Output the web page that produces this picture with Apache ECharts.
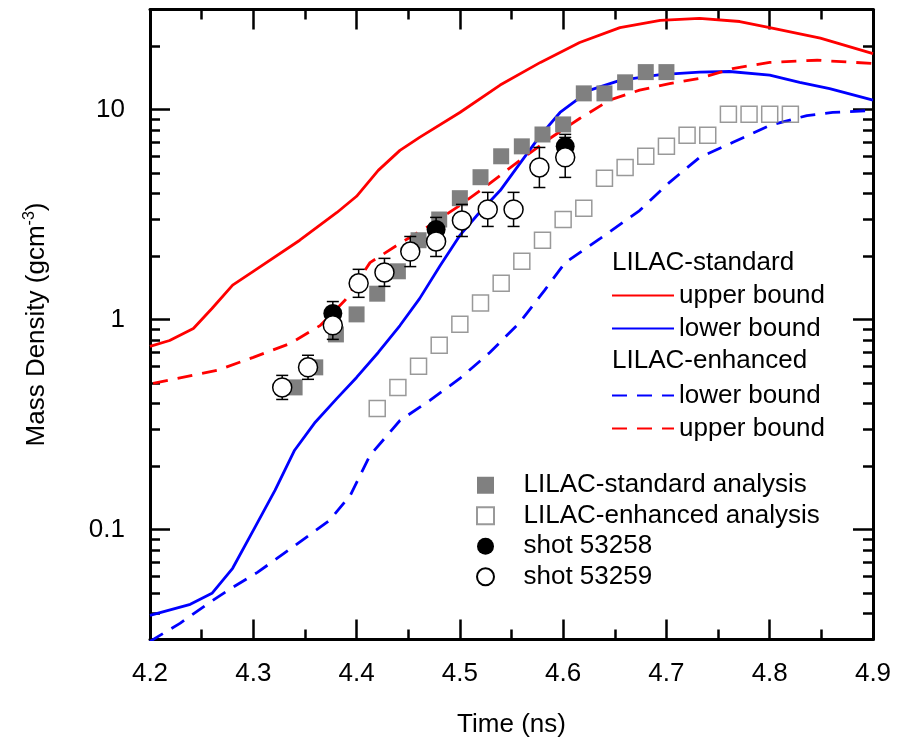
<!DOCTYPE html>
<html>
<head>
<meta charset="utf-8">
<script src="https://cdn.jsdelivr.net/npm/echarts@6/dist/echarts.min.js"></script>
<style>
  html, body { margin: 0; padding: 0; background: #fff; }
  #chart { width: 904px; height: 738px; }
</style>
</head>
<body>
<div id="chart"></div>
<script>
// Simulated bounds: [time (ns), mass density (g/cm^3)]
const stdUpper = [
  [4.200, 0.746], [4.219, 0.796], [4.242, 0.908], [4.260, 1.13], [4.280, 1.46],
  [4.300, 1.70], [4.345, 2.39], [4.381, 3.24], [4.400, 3.87], [4.421, 5.14],
  [4.442, 6.40], [4.461, 7.38], [4.500, 9.70], [4.539, 13.1], [4.578, 16.8],
  [4.616, 20.9], [4.655, 24.6], [4.694, 26.6], [4.732, 27.2], [4.771, 26.3],
  [4.800, 24.6], [4.849, 21.9], [4.900, 18.5]
];
const stdLower = [
  [4.200, 0.0391], [4.239, 0.0441], [4.260, 0.0498], [4.280, 0.0655], [4.300, 0.0993],
  [4.321, 0.154], [4.340, 0.239], [4.360, 0.325], [4.381, 0.422], [4.400, 0.531],
  [4.421, 0.698], [4.442, 0.938], [4.461, 1.26], [4.481, 1.81], [4.500, 2.52],
  [4.519, 3.24], [4.539, 4.12], [4.558, 5.54], [4.578, 7.54], [4.597, 9.70],
  [4.626, 12.4], [4.655, 13.8], [4.694, 14.7], [4.732, 15.1], [4.761, 15.2],
  [4.800, 14.6], [4.829, 13.5], [4.858, 12.6], [4.900, 11.1]
];
const enhLower = [
  [4.200, 0.0294], [4.229, 0.0358], [4.258, 0.0451], [4.280, 0.0531], [4.304, 0.0626],
  [4.334, 0.0798], [4.374, 0.111], [4.394, 0.146], [4.413, 0.226], [4.442, 0.331],
  [4.471, 0.413], [4.500, 0.525], [4.529, 0.698], [4.558, 0.970], [4.582, 1.38],
  [4.602, 1.87], [4.636, 2.44], [4.674, 3.31], [4.703, 4.51], [4.732, 5.92],
  [4.764, 6.98], [4.800, 8.41], [4.836, 9.38], [4.861, 9.70], [4.900, 9.93]
];
const enhUpper = [
  [4.203, 0.497], [4.265, 0.574], [4.300, 0.662], [4.336, 0.771], [4.365, 0.94],
  [4.389, 1.24], [4.413, 1.87], [4.442, 2.31], [4.471, 2.81], [4.500, 3.50],
  [4.529, 4.46], [4.558, 5.73], [4.587, 7.29], [4.616, 9.08], [4.645, 11.1],
  [4.674, 12.4], [4.703, 13.3], [4.732, 14.1], [4.764, 15.7], [4.800, 16.8],
  [4.846, 17.2], [4.900, 16.6]
];

// Analysed densities
const stdAnalysis = [
  [4.34, 0.476], [4.36, 0.593], [4.38, 0.851], [4.40, 1.06], [4.42, 1.33],
  [4.44, 1.70], [4.46, 2.39], [4.48, 3.00], [4.50, 3.79], [4.52, 4.77],
  [4.54, 6.00], [4.56, 6.69], [4.58, 7.62], [4.60, 8.51], [4.62, 11.96],
  [4.64, 11.96], [4.66, 13.5], [4.68, 15.1], [4.70, 15.1]
];
const enhAnalysis = [
  [4.42, 0.378], [4.44, 0.476], [4.46, 0.60], [4.48, 0.755], [4.50, 0.95],
  [4.52, 1.20], [4.54, 1.49], [4.56, 1.90], [4.58, 2.39], [4.60, 3.00],
  [4.62, 3.39], [4.64, 4.71], [4.66, 5.31], [4.68, 6.00], [4.70, 6.69],
  [4.72, 7.55], [4.74, 7.55], [4.76, 9.5], [4.78, 9.5], [4.80, 9.5], [4.82, 9.5]
];

// Shot measurements and their error ranges [time, low, high]
const shot53258 = [[4.377, 1.07], [4.477, 2.69], [4.602, 6.69]];
const shot53258Err = [[4.377, 0.94, 1.22], [4.477, 2.36, 3.07], [4.602, 5.86, 7.63]];
const shot53259 = [
  [4.328, 0.476], [4.353, 0.593], [4.377, 0.94], [4.402, 1.49], [4.427, 1.68],
  [4.452, 2.11], [4.477, 2.36], [4.502, 2.97], [4.527, 3.35], [4.552, 3.35],
  [4.577, 5.31], [4.602, 5.93]
];
const shot53259Err = [
  [4.328, 0.417, 0.543], [4.353, 0.520, 0.677], [4.377, 0.806, 1.096], [4.402, 1.278, 1.737],
  [4.427, 1.441, 1.959], [4.452, 1.79, 2.49], [4.477, 2.00, 2.78], [4.502, 2.49, 3.54],
  [4.527, 2.78, 4.04], [4.552, 2.78, 4.04], [4.577, 4.26, 6.61], [4.602, 4.76, 7.38]
];

// Axis ticks
const xTickLabels = ['4.2', '4.3', '4.4', '4.5', '4.6', '4.7', '4.8', '4.9'];
const yMajorTicks = [0.1, 1, 10];
const yMinorTicks = [0.04, 0.05, 0.06, 0.07, 0.08, 0.09,
  0.2, 0.3, 0.4, 0.5, 0.6, 0.7, 0.8, 0.9,
  2, 3, 4, 5, 6, 7, 8, 9, 20];

const FONT = 'Liberation Sans, Arial, Helvetica, sans-serif';
const FS = 26;
const axisColor = '#000';
const LW = 2.8;
const squareIcon = 'path://M0,0L10,0L10,10L0,10Z';

function xAxisCfg(pos, showLabel) {
  return {
    type: 'value', position: pos, min: 4.2, max: 4.9, interval: 0.1,
    axisLine: { show: true, onZero: false, lineStyle: { color: axisColor, width: 3 } },
    axisTick: { show: true, inside: true, length: 20, lineStyle: { color: axisColor, width: 2.5 } },
    minorTick: { show: true, splitNumber: 2, length: 10, lineStyle: { color: axisColor, width: 2.5 } },
    splitLine: { show: false },
    axisLabel: {
      show: showLabel, margin: 21, color: '#000', fontFamily: FONT, fontSize: FS,
      formatter: v => xTickLabels[Math.round((v - 4.2) * 10)]
    }
  };
}

function yAxisCfg(pos, ticks, len, showLine, showLabel) {
  const cfg = {
    type: 'log', logBase: 10, position: pos, min: 0.03, max: 30,
    axisLine: { show: showLine, onZero: false, lineStyle: { color: axisColor, width: 3 } },
    axisTick: { show: true, inside: true, length: len, customValues: ticks,
      lineStyle: { color: axisColor, width: 2.5 } },
    minorTick: { show: false },
    splitLine: { show: false },
    axisLabel: { show: false }
  };
  if (showLabel) {
    cfg.axisLabel = {
      show: true, customValues: yMajorTicks, margin: 25, color: '#000',
      fontFamily: FONT, fontSize: FS,
      formatter: v => (v < 1 ? String(Math.round(v * 10) / 10) : String(Math.round(v)))
    };
  }
  return cfg;
}

function errorBars(params, api) {
  const t = api.value(0);
  const lo = api.coord([t, api.value(1)]);
  const hi = api.coord([t, api.value(2)]);
  const w = 6;
  const st = { stroke: '#000', lineWidth: 1.5 };
  return {
    type: 'group',
    children: [
      { type: 'line', shape: { x1: lo[0], y1: lo[1], x2: hi[0], y2: hi[1] }, style: st },
      { type: 'line', shape: { x1: lo[0] - w, y1: lo[1], x2: lo[0] + w, y2: lo[1] }, style: st },
      { type: 'line', shape: { x1: hi[0] - w, y1: hi[1], x2: hi[0] + w, y2: hi[1] }, style: st }
    ]
  };
}

const legendText = { color: '#000', fontFamily: FONT, fontSize: FS, lineHeight: 33 };

const option = {
  animation: false,
  backgroundColor: '#fff',
  grid: { left: 150, right: 31, top: 9.5, bottom: 98.5, containLabel: false, outerBoundsMode: 'none' },
  xAxis: [
    Object.assign(xAxisCfg('bottom', true), {
      name: 'Time (ns)', nameLocation: 'middle', nameGap: 72,
      nameTextStyle: { color: '#000', fontFamily: FONT, fontSize: FS }
    }),
    xAxisCfg('top', false)
  ],
  yAxis: [
    Object.assign(yAxisCfg('left', yMajorTicks, 20, true, true), {
      name: 'Mass Density (gcm{sup|-3})', nameLocation: 'middle', nameGap: 98, nameRotate: 90,
      nameTextStyle: {
        color: '#000', fontFamily: FONT, fontSize: FS, lineHeight: 30,
        rich: { sup: { fontFamily: FONT, fontSize: 16, color: '#000', verticalAlign: 'top', lineHeight: 20 } }
      }
    }),
    yAxisCfg('left', yMinorTicks, 10, false, false),
    yAxisCfg('right', yMajorTicks, 20, true, false),
    yAxisCfg('right', yMinorTicks, 10, false, false)
  ],
  graphic: [
    { type: 'text', x: 612, y: 263, style: { text: 'LILAC-standard', fill: '#000',
      font: FS + 'px ' + FONT, verticalAlign: 'middle' } },
    { type: 'text', x: 612, y: 361, style: { text: 'LILAC-enhanced', fill: '#000',
      font: FS + 'px ' + FONT, verticalAlign: 'middle' } }
  ],
  legend: [
    {
      orient: 'vertical', left: 611, top: 279, padding: 0, itemGap: 0,
      itemWidth: 62, itemHeight: 14, selectedMode: false, textStyle: legendText,
      itemStyle: { opacity: 0 },
      data: ['LILAC-standard upper bound', 'LILAC-standard lower bound'],
      formatter: n => n.replace('LILAC-standard ', '')
    },
    {
      orient: 'vertical', left: 611, top: 379, padding: 0, itemGap: 0,
      itemWidth: 62, itemHeight: 14, selectedMode: false, textStyle: legendText,
      itemStyle: { opacity: 0 },
      data: ['LILAC-enhanced lower bound', 'LILAC-enhanced upper bound'],
      formatter: n => n.replace('LILAC-enhanced ', '')
    },
    {
      orient: 'vertical', left: 476, top: 470, padding: 0, itemGap: 0,
      itemWidth: 66, itemHeight: 17, selectedMode: false, symbolKeepAspect: true,
      textStyle: Object.assign({}, legendText, { lineHeight: 30.5 }),
      data: [
        { name: 'LILAC-standard analysis', icon: squareIcon },
        { name: 'LILAC-enhanced analysis', icon: squareIcon },
        { name: 'shot 53258', icon: 'circle' },
        { name: 'shot 53259', icon: 'circle' }
      ]
    }
  ],
  series: [
    { name: 'LILAC-standard upper bound', type: 'line', data: stdUpper, symbol: 'none',
      lineStyle: { color: '#ff0000', width: LW }, itemStyle: { color: '#ff0000' } },
    { name: 'LILAC-standard lower bound', type: 'line', data: stdLower, symbol: 'none',
      lineStyle: { color: '#0000ff', width: LW }, itemStyle: { color: '#0000ff' } },
    { name: 'LILAC-enhanced lower bound', type: 'line', data: enhLower, symbol: 'none',
      lineStyle: { color: '#0000ff', width: LW, type: [15, 10] }, itemStyle: { color: '#0000ff' } },
    { name: 'LILAC-enhanced upper bound', type: 'line', data: enhUpper, symbol: 'none',
      lineStyle: { color: '#ff0000', width: LW, type: [15, 10] }, itemStyle: { color: '#ff0000' } },
    { name: 'LILAC-standard analysis', type: 'scatter', data: stdAnalysis, symbol: 'rect',
      symbolSize: 16, itemStyle: { color: '#808080', opacity: 1 }, z: 3 },
    { name: 'LILAC-enhanced analysis', type: 'scatter', data: enhAnalysis, symbol: 'rect',
      symbolSize: 16, itemStyle: { color: 'rgba(255,255,255,0)', borderColor: '#808080', borderWidth: 1.5 }, z: 3 },
    { name: 'err53258', type: 'custom', data: shot53258Err, renderItem: errorBars,
      encode: { x: 0, y: [1, 2] }, z: 4 },
    { name: 'err53259', type: 'custom', data: shot53259Err, renderItem: errorBars,
      encode: { x: 0, y: [1, 2] }, z: 4 },
    { name: 'shot 53258', type: 'scatter', data: shot53258, symbol: 'circle', symbolSize: 19,
      itemStyle: { color: '#000', opacity: 1 }, z: 5 },
    { name: 'shot 53259', type: 'scatter', data: shot53259, symbol: 'circle', symbolSize: 19,
      itemStyle: { color: '#fff', borderColor: '#000', borderWidth: 1.5, opacity: 1 }, z: 5 }
  ]
};

const chart = echarts.init(document.getElementById('chart'), null, { renderer: 'canvas' });
chart.setOption(option);
</script>
</body>
</html>
